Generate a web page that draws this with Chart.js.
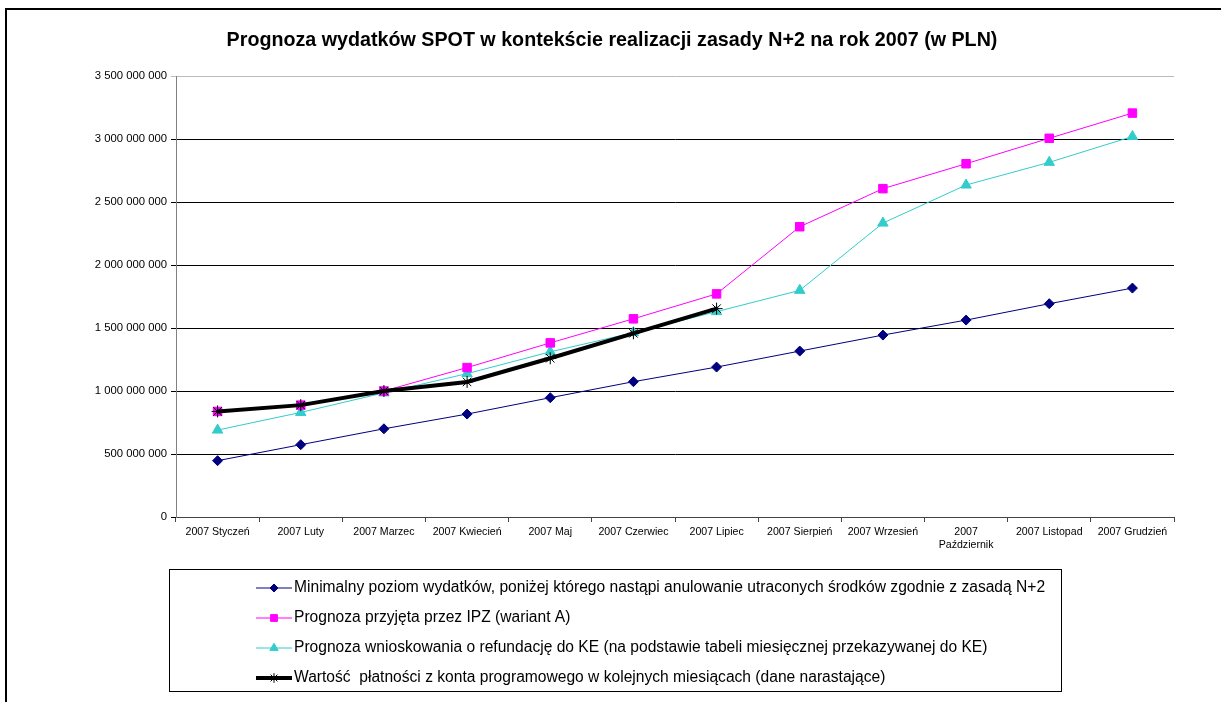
<!DOCTYPE html>
<html lang="pl">
<head>
<meta charset="UTF-8">
<title>Prognoza wydatków SPOT</title>
<script src="https://cdn.jsdelivr.net/npm/chart.js@4.4.0/dist/chart.umd.min.js"></script>
<style>
  html, body { margin: 0; padding: 0; background: #fff; overflow: hidden; }
  #wrap { width: 1221px; height: 702px; position: relative; }
</style>
</head>
<body>
<div id="wrap"><canvas id="chart" width="1221" height="702"></canvas></div>
<script>
// kategorie (miesiące)
var months = ["2007 Styczeń", "2007 Luty", "2007 Marzec", "2007 Kwiecień", "2007 Maj", "2007 Czerwiec",
  "2007 Lipiec", "2007 Sierpień", "2007 Wrzesień", ["2007", "Październik"], "2007 Listopad", "2007 Grudzień"];

// serie
var minimalny = [447e6, 574e6, 700e6, 817e6, 947e6, 1074e6, 1190e6, 1317e6, 1444e6, 1563e6, 1693e6, 1817e6];
var prognozaIPZ = [838e6, 888e6, 1000e6, 1186e6, 1382e6, 1573e6, 1771e6, 2304e6, 2606e6, 2804e6, 3006e6, 3206e6];
var prognozaKE = [690e6, 830e6, 985e6, 1138e6, 1311e6, 1463e6, 1630e6, 1799e6, 2333e6, 2635e6, 2815e6, 3020e6];
var platnosci = [838e6, 888e6, 1000e6, 1072e6, 1260e6, 1458e6, 1654e6, null, null, null, null, null];

var labels = [
  "Minimalny poziom wydatków, poniżej którego nastąpi anulowanie utraconych środków zgodnie z zasadą N+2",
  "Prognoza przyjęta przez IPZ (wariant A)",
  "Prognoza wnioskowania o refundację do KE (na podstawie tabeli miesięcznej przekazywanej do KE)",
  "Wartość  płatności z konta programowego w kolejnych miesiącach (dane narastające)"
];

var FONT = "Arial, 'Liberation Sans', sans-serif";

function fmt(v) {
  return String(v).replace(/\B(?=(\d{3})+(?!\d))/g, " ");
}

// ramka (widoczna tylko góra i lewa strona)
var frame = {
  id: "frame",
  beforeDraw: function (chart) {
    var c = chart.ctx;
    c.save();
    c.fillStyle = "#fff";
    c.fillRect(0, 0, chart.width, chart.height);
    c.strokeStyle = "#000";
    c.lineWidth = 2;
    c.beginPath();
    c.moveTo(6, chart.height);
    c.lineTo(6, 9);
    c.lineTo(chart.width, 9);
    c.stroke();
    c.restore();
  }
};

// legenda w ramce pod wykresem
var legendBox = {
  id: "legendBox",
  afterDraw: function (chart) {
    var c = chart.ctx;
    var top = chart.chartArea.bottom + 52;
    c.save();
    c.strokeStyle = "#000";
    c.lineWidth = 1;
    c.strokeRect(169.5, top + 0.5, 892, 122);
    chart.data.datasets.forEach(function (ds, i) {
      var y = top + 19 + i * 30;
      c.strokeStyle = ds.borderColor;
      c.lineWidth = ds.borderWidth;
      c.beginPath();
      c.moveTo(256, y);
      c.lineTo(292, y);
      c.stroke();
      c.fillStyle = ds.pointBackgroundColor;
      c.strokeStyle = ds.pointBorderColor;
      c.lineWidth = 1;
      Chart.helpers.drawPoint(c, {
        pointStyle: ds.pointStyle,
        radius: ds.pointRadius * 0.8,
        borderWidth: 1,
        rotation: 0
      }, 274, y);
      c.fillStyle = "#000";
      c.font = "15.6px " + FONT;
      c.textBaseline = "middle";
      c.fillText(ds.label, 294, y);
    });
    c.restore();
  }
};

var ctx = document.getElementById("chart").getContext("2d");
var chart = new Chart(ctx, {
  type: "line",
  data: {
    labels: months,
    datasets: [
      {
        label: labels[0], data: minimalny, order: 3,
        borderColor: "#000080", borderWidth: 1,
        pointStyle: "rectRot", pointRadius: 5,
        pointBackgroundColor: "#000080", pointBorderColor: "#000080"
      },
      {
        label: labels[1], data: prognozaIPZ, order: 1,
        borderColor: "#FF00FF", borderWidth: 1,
        pointStyle: "rect", pointRadius: 6,
        pointBackgroundColor: "#FF00FF", pointBorderColor: "#FF00FF"
      },
      {
        label: labels[2], data: prognozaKE, order: 2,
        borderColor: "#33CCCC", borderWidth: 1,
        pointStyle: "triangle", pointRadius: 6,
        pointBackgroundColor: "#33CCCC", pointBorderColor: "#33CCCC"
      },
      {
        label: labels[3], data: platnosci, order: 0,
        borderColor: "#000", borderWidth: 4,
        pointStyle: "star", pointRadius: 6, pointBorderWidth: 1,
        pointBackgroundColor: "#000", pointBorderColor: "#000"
      }
    ]
  },
  options: {
    responsive: false,
    animation: false,
    // lewy/prawy margines tak, by tytuł był wyśrodkowany na całej szerokości
    layout: { padding: { left: 25, right: 22, top: 0, bottom: 135 } },
    plugins: {
      legend: { display: false },
      tooltip: { enabled: false },
      title: {
        display: true,
        text: "Prognoza wydatków SPOT w kontekście realizacji zasady N+2 na rok 2007 (w PLN)",
        color: "#000",
        font: { family: FONT, size: 19.7, weight: "bold" },
        padding: { top: 29, bottom: 23.4 }
      }
    },
    elements: { line: { tension: 0 } },
    scales: {
      x: {
        offset: true,
        grid: { offset: true, drawOnChartArea: false, color: "#444", tickLength: 5 },
        border: { color: "#444", width: 1 },
        ticks: {
          color: "#000", padding: 4, maxRotation: 0, autoSkip: false,
          font: { family: FONT, size: 10.6 }
        },
        afterFit: function (s) { s.height = 50; }
      },
      y: {
        min: 0, max: 3500000000,
        grid: {
          tickLength: 5,
          color: function (c) { return c.tick && c.tick.value === 3500000000 ? "#bbb" : "#000"; }
        },
        border: { color: "#808080", width: 1 },
        ticks: {
          stepSize: 500000000, color: "#000", padding: 4,
          font: { family: FONT, size: 11.3 },
          callback: function (v) { return fmt(v); }
        },
        afterFit: function (s) { s.width = 151; }
      },
      // pusta oś po prawej - tylko odstęp
      yRight: {
        position: "right",
        min: 0, max: 1,
        grid: { display: false, drawTicks: false },
        border: { display: false },
        ticks: { display: false },
        afterFit: function (s) { s.width = 25; }
      }
    }
  },
  plugins: [frame, legendBox]
});
</script>
</body>
</html>
